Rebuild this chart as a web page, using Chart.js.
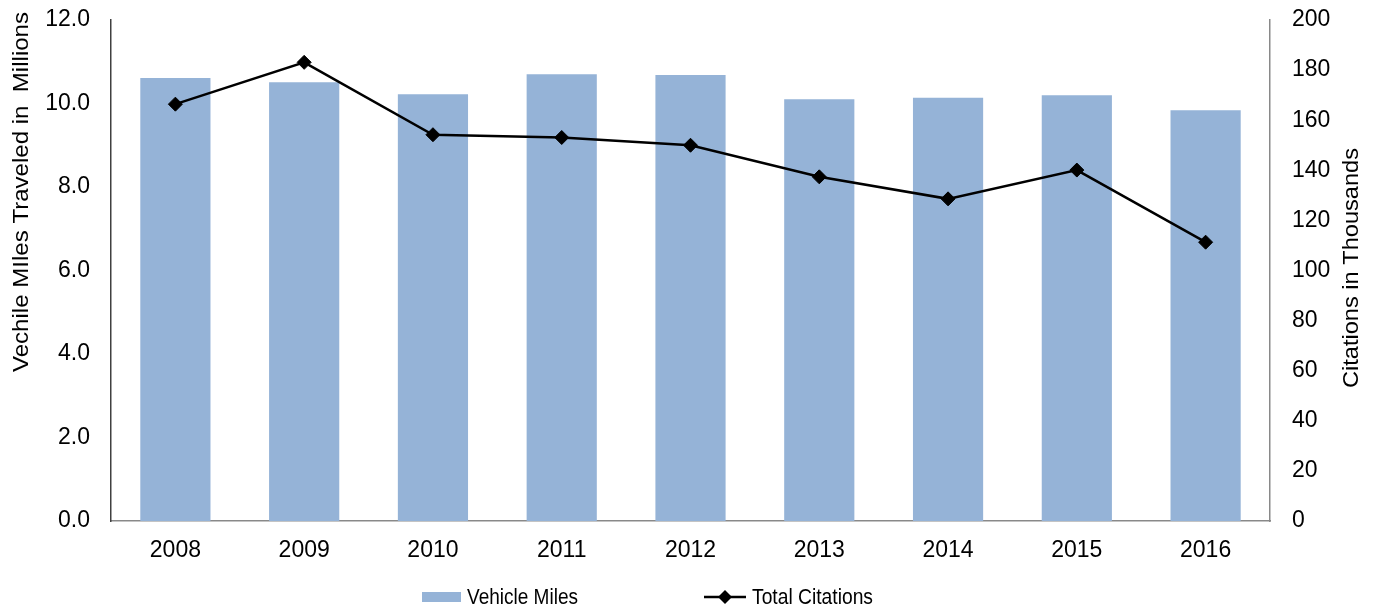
<!DOCTYPE html>
<html>
<head>
<meta charset="utf-8">
<script src="https://cdn.jsdelivr.net/npm/chart.js@4/dist/chart.umd.min.js"></script>
<style>
html,body{margin:0;padding:0;background:#fff;}
#wrap{width:1375px;height:609px;position:relative;}
</style>
</head>
<body>
<div id="wrap"><canvas id="c" width="1375" height="609"></canvas></div>
<script>
const years = ['2008','2009','2010','2011','2012','2013','2014','2015','2016'];
const vehicleMiles = [10.61, 10.51, 10.22, 10.70, 10.68, 10.10, 10.14, 10.20, 9.84];
const totalCitations = [166.4, 183.1, 154.2, 153.1, 150.0, 137.4, 128.6, 140.1, 111.3];
const leftTitle = 'Vechile MIles Traveled in  Millions';
const rightTitle = 'Citations in Thousands';
const seriesNames = ['Vehicle Miles', 'Total Citations'];

const FONT = "'Liberation Sans', Arial, sans-serif";
const BAR = '#95B3D7';

function stretchedText(ctx, text, x, y, targetW, rot) {
  const w = ctx.measureText(text).width;
  ctx.save();
  ctx.translate(x, y);
  if (rot) ctx.rotate(rot);
  ctx.scale(targetW / w, 1);
  ctx.fillText(text, 0, 0);
  ctx.restore();
}

const extras = {
  id: 'extras',
  afterDraw(chart) {
    const ctx = chart.ctx;
    ctx.save();
    ctx.fillStyle = '#000';
    ctx.font = '22px ' + FONT;
    ctx.textAlign = 'center';
    ctx.textBaseline = 'middle';
    stretchedText(ctx, leftTitle, 22, 192, 360, -Math.PI / 2);
    stretchedText(ctx, rightTitle, 1352, 268, 240, -Math.PI / 2);

    // legend
    const ly = 597;
    const barDs = chart.data.datasets[1], lineDs = chart.data.datasets[0];
    ctx.fillStyle = barDs.backgroundColor;
    ctx.fillRect(422, ly - 5, 39, 10);
    ctx.strokeStyle = lineDs.borderColor;
    ctx.lineWidth = 2.5;
    ctx.beginPath();
    ctx.moveTo(704, ly);
    ctx.lineTo(746, ly);
    ctx.stroke();
    ctx.fillStyle = lineDs.pointBackgroundColor;
    ctx.beginPath();
    ctx.moveTo(725, ly - 7);
    ctx.lineTo(732, ly);
    ctx.lineTo(725, ly + 7);
    ctx.lineTo(718, ly);
    ctx.closePath();
    ctx.fill();
    ctx.fillStyle = '#000';
    ctx.textAlign = 'left';
    stretchedText(ctx, seriesNames[0], 467, ly + 1, 111, 0);
    stretchedText(ctx, seriesNames[1], 752, ly + 1, 121, 0);
    ctx.restore();
  }
};

function noVPad(s) { s.paddingTop = 0; s.paddingBottom = 0; }

new Chart(document.getElementById('c'), {
  data: {
    labels: years,
    datasets: [
      {
        type: 'line',
        label: seriesNames[1],
        data: totalCitations,
        yAxisID: 'y1',
        borderColor: '#000',
        backgroundColor: '#000',
        borderWidth: 2.5,
        pointStyle: 'rectRot',
        pointRadius: 7,
        pointBorderWidth: 1,
        pointBackgroundColor: '#000',
        pointBorderColor: '#000',
        tension: 0,
        order: 0
      },
      {
        type: 'bar',
        label: seriesNames[0],
        data: vehicleMiles,
        yAxisID: 'y',
        backgroundColor: BAR,
        borderWidth: 0,
        barPercentage: 0.545,
        categoryPercentage: 1,
        order: 1
      }
    ]
  },
  options: {
    responsive: false,
    animation: false,
    layout: { padding: { top: 20, left: 0, right: 0, bottom: 0 } },
    plugins: { legend: { display: false }, tooltip: { enabled: false } },
    scales: {
      x: {
        grid: { display: false, drawTicks: false },
        border: { display: true, color: '#898989', width: 1.5 },
        ticks: { color: '#000', font: { size: 23, family: FONT }, padding: 16 },
        afterFit(s) { s.height = 88; s.paddingLeft = 0; s.paddingRight = 0; }
      },
      y: {
        position: 'left',
        min: 0, max: 12,
        grid: { display: false, drawTicks: false },
        border: { display: true, color: '#404040', width: 1.5 },
        ticks: { stepSize: 2, color: '#000', font: { size: 23, family: FONT }, padding: 21,
          callback: v => Number(v).toFixed(1) },
        afterFit(s) { s.width = 111; noVPad(s); }
      },
      y1: {
        position: 'right',
        min: 0, max: 200,
        grid: { display: false, drawTicks: false },
        border: { display: true, color: '#898989', width: 1.5 },
        ticks: { stepSize: 20, color: '#000', font: { size: 23, family: FONT }, padding: 22 },
        afterFit(s) { s.width = 105; noVPad(s); }
      }
    }
  },
  plugins: [extras]
});
</script>
</body>
</html>
